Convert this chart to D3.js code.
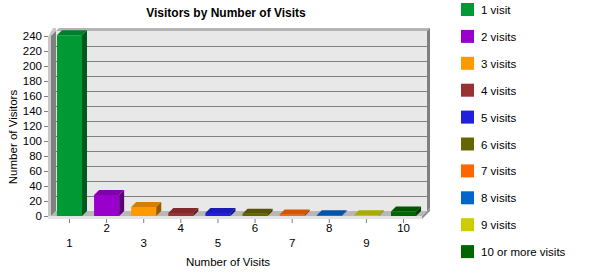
<!DOCTYPE html>
<html>
<head>
<meta charset="utf-8">
<script src="https://cdn.jsdelivr.net/npm/d3@7"></script>
<style>
  body { margin: 0; background: #fff; }
  text { font-family: "Liberation Sans", Arial, sans-serif; }
</style>
</head>
<body>
<svg id="chart" width="609" height="274"></svg>
<script>
const categories = ["1", "2", "3", "4", "5", "6", "7", "8", "9", "10"];
const visitors = [241, 28, 12, 4, 4, 3, 2, 1, 1, 6];
const legendLabels = ["1 visit", "2 visits", "3 visits", "4 visits", "5 visits",
    "6 visits", "7 visits", "8 visits", "9 visits", "10 or more visits"];
const palette = ["#009933", "#9900cc", "#ff9900", "#993333", "#2020dd",
    "#666600", "#ff6600", "#0066cc", "#cccc00", "#006600"];
const yTicks = d3.range(0, 241, 20);

const svg = d3.select("#chart");

// plot box (front plane) and 3d depth
const plotLeft = 51, plotRight = 422, plotBottom = 216, plotTop = 36;
const dx = 5, dy = 5;
const fontSize = 11.5;

const x = d3.scaleBand()
    .domain(categories)
    .range([plotLeft, plotRight])
    .paddingInner(12 / 37)
    .paddingOuter(0.16);

const y = d3.scaleLinear()
    .domain([0, 240])
    .range([plotBottom, plotTop]);

const color = d3.scaleOrdinal().domain(categories).range(palette);

const pts = arr => arr.map(p => p.join(",")).join(" ");

// back wall top and right edges
svg.append("polygon")
    .attr("points", pts([[plotLeft + dx, plotTop - dy], [plotLeft + dx + 3, plotTop - dy - 3], [plotRight + dx + 3, plotTop - dy - 3], [plotRight + dx, plotTop - dy]]))
    .attr("fill", "#b4b4b4");
svg.append("polygon")
    .attr("points", pts([[plotRight + dx, plotTop - dy], [plotRight + dx + 3, plotTop - dy - 3], [plotRight + dx + 3, plotBottom - dy - 3], [plotRight + dx, plotBottom - dy]]))
    .attr("fill", "#808080");

// back wall
svg.append("rect")
    .attr("x", plotLeft + dx)
    .attr("y", plotTop - dy)
    .attr("width", plotRight - plotLeft)
    .attr("height", plotBottom - plotTop)
    .attr("fill", "#e8e8e8");

// grid lines on back wall
svg.append("g")
    .selectAll("line")
    .data(yTicks.filter(d => d > 0 && d < 240))
    .join("line")
    .attr("x1", plotLeft + dx)
    .attr("x2", plotRight + dx)
    .attr("y1", d => Math.round(y(d) - dy) + 0.5)
    .attr("y2", d => Math.round(y(d) - dy) + 0.5)
    .attr("stroke", "#808080");

// left wall
svg.append("polygon")
    .attr("points", pts([[plotLeft - 3, plotTop + 1], [plotLeft + dx - 3, plotTop - dy - 3], [plotLeft + dx, plotTop - dy - 3], [plotLeft + dx, plotBottom - dy], [plotLeft, plotBottom + 3], [plotLeft - 3, plotBottom + 3]]))
    .attr("fill", "#c8c8c8");
svg.append("polygon")
    .attr("points", pts([[plotLeft, plotTop], [plotLeft + dx, plotTop - dy], [plotLeft + dx, plotBottom - dy], [plotLeft, plotBottom]]))
    .attr("fill", "#808080");

// floor
svg.append("polygon")
    .attr("points", pts([[plotLeft, plotBottom], [plotLeft + dx, plotBottom - dy], [plotRight + dx, plotBottom - dy], [plotRight, plotBottom]]))
    .attr("fill", "#b8b8b8");
svg.append("rect")
    .attr("x", plotLeft - 3)
    .attr("y", plotBottom)
    .attr("width", plotRight - plotLeft + 3)
    .attr("height", 3)
    .attr("fill", "#e4e4e4");
svg.append("polygon")
    .attr("points", pts([[plotRight, plotBottom], [plotRight + dx, plotBottom - dy], [plotRight + dx + 3, plotBottom - dy - 3], [plotRight + dx + 3, plotBottom - dy], [plotRight, plotBottom + 3]]))
    .attr("fill", "#909090");

// bars
const bars = svg.append("g")
    .selectAll("g")
    .data(categories.map((c, i) => ({ c, v: visitors[i] })))
    .join("g");

const bw = x.bandwidth();

bars.append("rect")
    .attr("x", d => x(d.c))
    .attr("y", d => y(d.v))
    .attr("width", bw)
    .attr("height", d => plotBottom - y(d.v))
    .attr("fill", d => color(d.c));

bars.append("polygon")
    .attr("points", d => pts([[x(d.c), y(d.v)], [x(d.c) + dx, y(d.v) - dy], [x(d.c) + bw + dx, y(d.v) - dy], [x(d.c) + bw, y(d.v)]]))
    .attr("fill", d => d3.color(color(d.c)).darker(0.5));

bars.append("polygon")
    .attr("points", d => pts([[x(d.c) + bw, y(d.v)], [x(d.c) + bw + dx, y(d.v) - dy], [x(d.c) + bw + dx, plotBottom - dy], [x(d.c) + bw, plotBottom]]))
    .attr("fill", d => d3.color(color(d.c)).darker(1.5));

// y axis
const yAxis = svg.append("g")
    .attr("transform", `translate(${plotLeft - 3},0)`)
    .call(d3.axisLeft(y).tickValues(yTicks).tickSize(4).tickPadding(2));
yAxis.select(".domain").remove();
yAxis.selectAll("line").attr("stroke", "#808080");
yAxis.selectAll("text").attr("font-size", fontSize).attr("font-family", "Liberation Sans, Arial, sans-serif").attr("fill", "#000");

// x axis
const xAxis = svg.append("g")
    .attr("transform", `translate(0,${plotBottom + 3})`)
    .call(d3.axisBottom(x).tickSize(4).tickPadding(2));
xAxis.select(".domain").remove();
xAxis.selectAll("line").attr("stroke", "#808080");
xAxis.selectAll("text")
    .attr("font-size", fontSize)
    .attr("font-family", "Liberation Sans, Arial, sans-serif")
    .attr("fill", "#000")
    .attr("y", (d, i) => i % 2 === 0 ? 20 : 5)
    .attr("dy", "0.71em");

// titles
svg.append("text")
    .attr("x", 226)
    .attr("y", 17)
    .attr("text-anchor", "middle")
    .attr("font-size", 12)
    .attr("font-weight", "bold")
    .text("Visitors by Number of Visits");

svg.append("text")
    .attr("x", 228)
    .attr("y", 266)
    .attr("text-anchor", "middle")
    .attr("font-size", fontSize)
    .text("Number of Visits");

svg.append("text")
    .attr("transform", "translate(17,137) rotate(-90)")
    .attr("text-anchor", "middle")
    .attr("font-size", fontSize)
    .text("Number of Visitors");

// legend
const legend = svg.append("g")
    .selectAll("g")
    .data(legendLabels)
    .join("g")
    .attr("transform", (d, i) => `translate(461,${3 + i * 26.9})`);

legend.append("rect")
    .attr("width", 13)
    .attr("height", 13)
    .attr("fill", (d, i) => palette[i]);

legend.append("text")
    .attr("x", 20)
    .attr("y", 11)
    .attr("font-size", fontSize)
    .text(d => d);
</script>
</body>
</html>
